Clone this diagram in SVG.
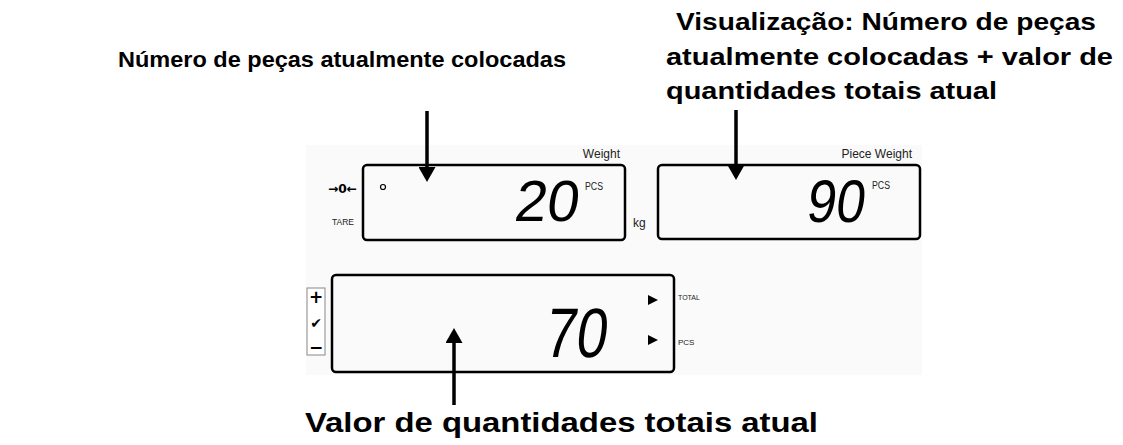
<svg xmlns="http://www.w3.org/2000/svg" width="1123" height="445" viewBox="0 0 1123 445">
<style>
.lbl{font-family:"Liberation Sans",Arial,sans-serif;font-weight:bold;font-size:22.5px;fill:#000}
.rt{font-size:24px}
.big{font-size:27px}
.lcd{fill:none;stroke:#000;stroke-width:2.5}
.dig{font-family:"Liberation Sans",Arial,sans-serif;fill:#000}
.sm{font-family:"Liberation Sans",Arial,sans-serif;fill:#222}
.conn{stroke:#000;stroke-width:3.5;fill:none}
</style>
<defs>
<marker id="ah" markerUnits="userSpaceOnUse" markerWidth="15" markerHeight="17" refX="5" refY="8.5" orient="auto">
<path d="M0,0 L15,8.5 L0,17 Z" fill="#000"/>
</marker>
</defs>
<rect x="306" y="145" width="616" height="230" fill="#fafafa"/>
<g id="label-left">
<text class="lbl" x="118" y="67" textLength="448" lengthAdjust="spacingAndGlyphs">Número de peças atualmente colocadas</text>
</g>
<g id="label-right">
<text class="lbl rt" x="676" y="30" textLength="420" lengthAdjust="spacingAndGlyphs">Visualização: Número de peças</text>
<text class="lbl rt" x="666" y="65" textLength="447" lengthAdjust="spacingAndGlyphs">atualmente colocadas + valor de</text>
<text class="lbl rt" x="666" y="99" textLength="331" lengthAdjust="spacingAndGlyphs">quantidades totais atual</text>
</g>
<g id="label-bottom">
<text class="lbl big" x="305" y="432" textLength="513" lengthAdjust="spacingAndGlyphs">Valor de quantidades totais atual</text>
</g>
<g id="display-weight">
<rect class="lcd" x="363" y="165" width="262" height="75" rx="4"/>
<text class="sm" x="620" y="158" font-size="12" text-anchor="end">Weight</text>
<text x="328" y="193" font-size="12" font-weight="bold" font-family="DejaVu Sans" fill="#000" textLength="29" lengthAdjust="spacingAndGlyphs">→0←</text>
<text class="sm" x="332" y="225" font-size="8.5">TARE</text>
<circle cx="383" cy="187" r="2.5" fill="none" stroke="#000" stroke-width="1.2"/>
<g transform="translate(513,221) skewX(-8)"><text class="dig" x="0" y="0" font-size="58" textLength="64" lengthAdjust="spacingAndGlyphs">20</text></g>
<text class="sm" x="585" y="190" font-size="10" textLength="18" lengthAdjust="spacingAndGlyphs">PCS</text>
<text class="sm" x="633" y="227" font-size="12">kg</text>
</g>
<g id="display-piece-weight">
<rect class="lcd" x="658" y="165" width="262" height="74" rx="4"/>
<text class="sm" x="912" y="158" font-size="12" text-anchor="end">Piece Weight</text>
<g transform="translate(805,222) skewX(-8)"><text class="dig" x="0" y="0" font-size="60" textLength="58" lengthAdjust="spacingAndGlyphs">90</text></g>
<text class="sm" x="872" y="189" font-size="10" textLength="18" lengthAdjust="spacingAndGlyphs">PCS</text>
</g>
<g id="display-total">
<rect class="lcd" x="332" y="275" width="342" height="97" rx="4"/>
<rect x="307" y="288" width="18" height="67" fill="#fff" stroke="#888" stroke-width="1"/>
<text x="316" y="303" font-family="DejaVu Sans" font-weight="bold" font-size="17" text-anchor="middle">+</text>
<text x="316" y="328" font-family="DejaVu Sans" font-size="14" text-anchor="middle">✔</text>
<text x="316" y="353" font-family="DejaVu Sans" font-weight="bold" font-size="17" text-anchor="middle">−</text>
<g transform="translate(543,357) skewX(-8)"><text class="dig" x="0" y="0" font-size="70" textLength="62" lengthAdjust="spacingAndGlyphs">70</text></g>
<polygon points="648,295 658,300 648,305" fill="#000"/>
<polygon points="648,335 658,340 648,345" fill="#000"/>
<text class="sm" x="678" y="300" font-size="7">TOTAL</text>
<text class="sm" x="678" y="345" font-size="8">PCS</text>
</g>
<g id="connectors">
<line class="conn" x1="427" y1="111" x2="427" y2="172" marker-end="url(#ah)"/>
<line class="conn" x1="736" y1="110" x2="736" y2="170" marker-end="url(#ah)"/>
<line class="conn" x1="454" y1="405" x2="454" y2="338" marker-end="url(#ah)"/>
</g>
</svg>
